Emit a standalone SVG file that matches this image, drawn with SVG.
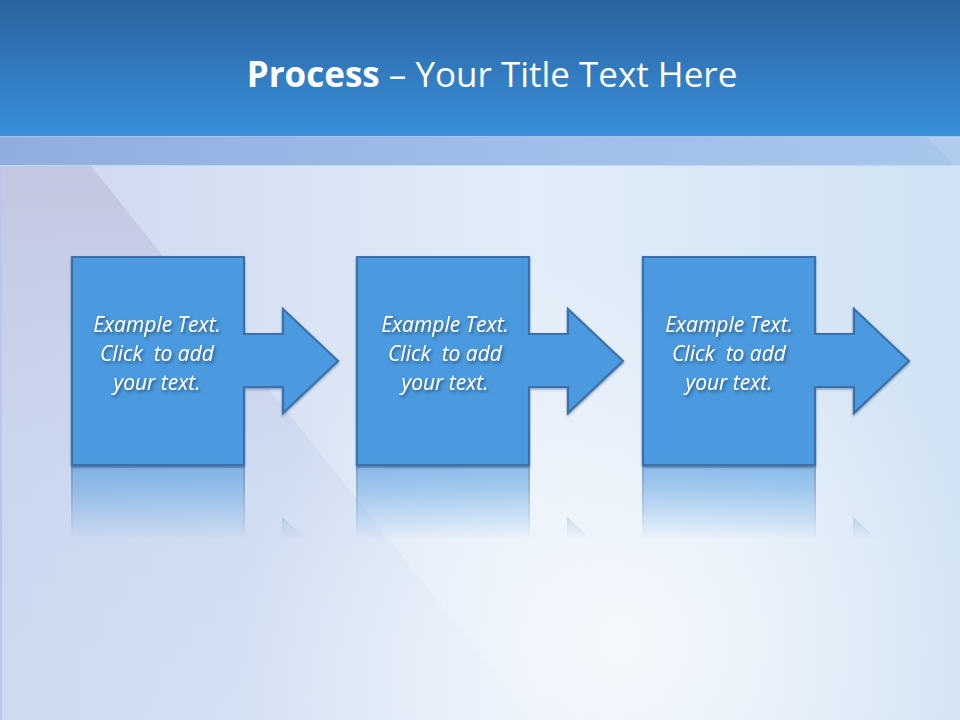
<svg xmlns="http://www.w3.org/2000/svg" width="960" height="720" viewBox="0 0 960 720">
<defs>
<linearGradient id="hdr" x1="0" y1="0" x2="0" y2="1">
<stop offset="0" stop-color="#2a639f"/>
<stop offset="1" stop-color="#3990dc"/>
</linearGradient>
<linearGradient id="band" x1="0" y1="0" x2="1" y2="0">
<stop offset="0" stop-color="#90ade0"/>
<stop offset="0.6" stop-color="#a0c0ea"/>
<stop offset="1" stop-color="#a6c6ec"/>
</linearGradient>
<linearGradient id="body" x1="0" y1="0" x2="1" y2="0">
<stop offset="0" stop-color="#cdd6ee"/>
<stop offset="0.55" stop-color="#e2edf9"/>
<stop offset="1" stop-color="#d0e2f4"/>
</linearGradient>
<radialGradient id="glow" cx="620" cy="640" r="380" gradientUnits="userSpaceOnUse">
<stop offset="0" stop-color="#f6f9fd" stop-opacity="0.95"/>
<stop offset="1" stop-color="#f6f9fd" stop-opacity="0"/>
</radialGradient>
<linearGradient id="leftShade" x1="0" y1="0" x2="0" y2="1">
<stop offset="0" stop-color="#c2c4de" stop-opacity="1"/>
<stop offset="0.55" stop-color="#c8d6ee" stop-opacity="0.6"/>
<stop offset="1" stop-color="#cfe1f4" stop-opacity="0.3"/>
</linearGradient>
<linearGradient id="reflFade" x1="0" y1="467" x2="0" y2="540" gradientUnits="userSpaceOnUse">
<stop offset="0" stop-color="#fff" stop-opacity="0.6"/>
<stop offset="0.3" stop-color="#fff" stop-opacity="0.45"/>
<stop offset="1" stop-color="#fff" stop-opacity="0"/>
</linearGradient>
<mask id="reflMask" maskUnits="userSpaceOnUse" x="0" y="460" width="960" height="100">
<rect x="0" y="466" width="960" height="80" fill="url(#reflFade)"/>
</mask>
<filter id="tshadow" x="-20%" y="-40%" width="140%" height="180%">
<feDropShadow dx="1.5" dy="2" stdDeviation="1.5" flood-color="#1d3f66" flood-opacity="0.75"/>
</filter>
<filter id="bshadow" x="-10%" y="-10%" width="120%" height="120%">
<feDropShadow dx="0" dy="1.5" stdDeviation="1" flood-color="#2a4f7a" flood-opacity="0.5"/>
</filter>
<path id="shape" d="M72,257 H244 V334 H283 V309 L338,361 L283,413 V387 H244 V465 H72 Z"/>
</defs>
<style>
.node { fill: #4b99de; stroke: #3a70aa; stroke-width: 2.2; stroke-linejoin: miter; }
.refl { fill: #4b99de; stroke: #3a70aa; stroke-width: 2; }
.lbl { font-family: "Open Sans", "Noto Sans", "DejaVu Sans", sans-serif; font-style: italic; font-size: 21px; fill: #ffffff; text-anchor: middle; }
.title { font-family: "Open Sans", "Noto Sans", "DejaVu Sans", sans-serif; font-size: 35px; fill: #ffffff; text-anchor: middle; }
</style>

<!-- background -->
<rect x="0" y="0" width="960" height="720" fill="url(#body)"/>
<polygon points="0,137 68,137 533,720 0,720" fill="url(#leftShade)"/>
<rect x="0" y="137" width="960" height="583" fill="url(#glow)"/>
<line x1="1" y1="166" x2="1" y2="720" stroke="#b9c7ea" stroke-width="2"/>

<!-- header -->
<rect x="0" y="0" width="960" height="136" fill="url(#hdr)"/>
<rect x="0" y="136" width="960" height="30" fill="url(#band)"/>
<polygon points="925,136 960,136 960,166 955,166" fill="#b5cfef" opacity="0.7"/>
<line x1="0" y1="136.5" x2="960" y2="136.5" stroke="#a9c4ec" stroke-width="1"/>
<line x1="0" y1="165.5" x2="960" y2="165.5" stroke="#c2d6f2" stroke-width="1"/>

<text class="title" x="492" y="87"><tspan font-weight="bold">Process</tspan> – Your Title Text Here</text>

<!-- reflections -->
<g id="reflections" mask="url(#reflMask)">
<g transform="translate(0,932) scale(1,-1)">
<use href="#shape" class="refl"/>
<use href="#shape" class="refl" transform="translate(285,0)"/>
<use href="#shape" class="refl" transform="translate(571,0)"/>
</g>
</g>

<g id="connectors"></g>

<!-- nodes -->
<g id="node1">
<use href="#shape" class="node" filter="url(#bshadow)"/>
<g filter="url(#tshadow)">
<text class="lbl" x="157" y="332">Example Text.</text>
<text class="lbl" x="157" y="361" xml:space="preserve">Click  to add</text>
<text class="lbl" x="157" y="390">your text.</text>
</g>
</g>
<g id="node2" transform="translate(285,0)">
<use href="#shape" class="node" filter="url(#bshadow)"/>
<g filter="url(#tshadow)">
<text class="lbl" x="160" y="332">Example Text.</text>
<text class="lbl" x="160" y="361" xml:space="preserve">Click  to add</text>
<text class="lbl" x="160" y="390">your text.</text>
</g>
</g>
<g id="node3" transform="translate(571,0)">
<use href="#shape" class="node" filter="url(#bshadow)"/>
<g filter="url(#tshadow)">
<text class="lbl" x="158" y="332">Example Text.</text>
<text class="lbl" x="158" y="361" xml:space="preserve">Click  to add</text>
<text class="lbl" x="158" y="390">your text.</text>
</g>
</g>
</svg>
